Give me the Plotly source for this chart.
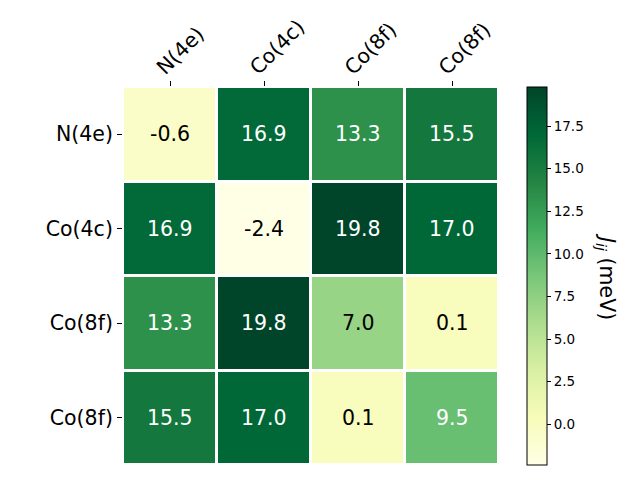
import plotly.graph_objects as go

labels = ["N(4e)", "Co(4c)", "Co(8f)", "Co(8f)"]
values = [
    [-0.6, 16.9, 13.3, 15.5],
    [16.9, -2.4, 19.8, 17.0],
    [13.3, 19.8, 7.0, 0.1],
    [15.5, 17.0, 0.1, 9.5],
]
cbar_ticks = [0.0, 2.5, 5.0, 7.5, 10.0, 12.5, 15.0, 17.5]

n = len(labels)
idx = list(range(n))
vmin = min(min(r) for r in values)
vmax = max(max(r) for r in values)

OFF = 8  # page body margin
L, R, T, B = 123 - OFF, 499 - OFF, 87 - OFF, 465 - OFF
W, H = R - L, B - T

fig = go.Figure(go.Heatmap(
    z=values, x=idx, y=idx,
    colorscale="YlGn", zmin=vmin, zmax=vmax,
    xgap=3, ygap=3,
    hoverinfo="skip",
    colorbar=dict(
        x=(527 - OFF - L) / W, xanchor="left", xref="paper",
        y=0.5, yanchor="middle", len=1.0, lenmode="fraction",
        thickness=20, outlinewidth=1, outlinecolor="black",
        xpad=0, ypad=0,
        ticks="outside", ticklen=4, tickwidth=1, tickcolor="black",
        tickvals=cbar_ticks, ticktext=[f"{t:.1f}" for t in cbar_ticks],
        tickfont=dict(size=13.5, color="black", family="DejaVu Sans"),
    ),
))

thr = (vmin + vmax) / 2
for i in range(n):
    for j in range(n):
        v = values[i][j]
        fig.add_annotation(
            x=j, y=i, text=f"{v:.1f}", showarrow=False,
            font=dict(size=20.5, family="DejaVu Sans",
                      color="white" if v > thr else "black"),
        )

# rotated column labels on top
for j, lab in enumerate(labels):
    fig.add_annotation(
        x=j, y=1, xref="x", yref="paper", text=lab, showarrow=False,
        textangle=-45, xanchor="left", yanchor="bottom",
        xshift=-20, yshift=6, borderpad=0,
        font=dict(size=20.5, family="DejaVu Sans", color="black"),
    )

fig.add_annotation(
    x=(606 - OFF - L) / W, y=(B - (276 - OFF)) / H, xref="paper", yref="paper",
    text="<i>J</i><sub><i>ij</i></sub> (meV)",
    showarrow=False, textangle=90, xanchor="center", yanchor="middle",
    font=dict(size=20.5, family="DejaVu Sans", color="black"),
)

fig.update_xaxes(
    side="top", range=[-0.5, n - 0.5], tickvals=idx, showticklabels=False,
    ticks="outside", ticklen=5, tickcolor="black",
    showgrid=False, zeroline=False, showline=False, automargin=False,
)
fig.update_yaxes(
    range=[n - 0.5, -0.5], tickvals=idx, ticktext=labels,
    ticks="outside", ticklen=5, tickcolor="black",
    tickfont=dict(size=20.5, family="DejaVu Sans", color="black"),
    showgrid=False, zeroline=False, showline=False, automargin=False,
)
fig.update_layout(
    width=640, height=480,
    margin=dict(l=L, r=640 - R, t=T, b=480 - B, autoexpand=False),
    paper_bgcolor="white", plot_bgcolor="white",
    showlegend=False,
)
fig.write_html("out.html")
